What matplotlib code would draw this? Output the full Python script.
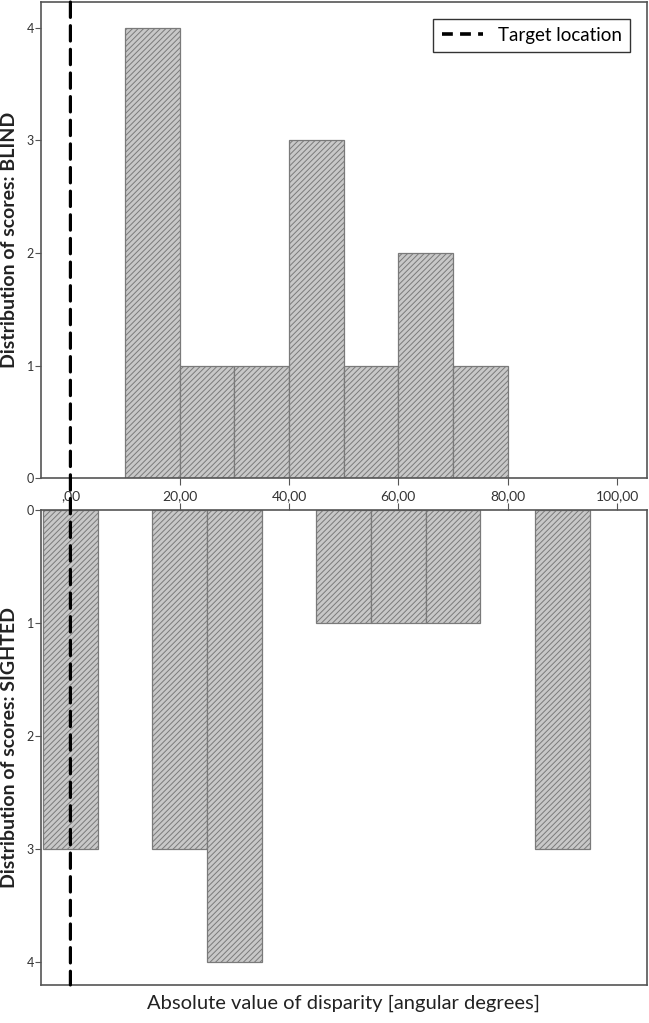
import matplotlib
matplotlib.use("Agg")
import matplotlib.pyplot as plt
from matplotlib.patches import ConnectionPatch
from matplotlib.lines import Line2D

# Data
blind_bin_left = [10, 20, 30, 40, 50, 60, 70]
blind_counts = [4, 1, 1, 3, 1, 2, 1]
sighted_bin_left = [-5, 15, 25, 45, 55, 65, 85]
sighted_counts = [3, 3, 4, 1, 1, 1, 3]
bin_width = 10
target_location = 0
x_ticks = [0, 20, 40, 60, 80, 100]
x_tick_labels = [",00", "20,00", "40,00", "60,00", "80,00", "100,00"]
y_ticks = [0, 1, 2, 3, 4]

plt.rcParams['font.family'] = ['Lato', 'DejaVu Sans']
plt.rcParams['hatch.linewidth'] = 0.7
plt.rcParams['hatch.color'] = '#7a7a7a'

fig = plt.figure(figsize=(6.49, 10.23), dpi=100)
ax1 = fig.add_axes([0.063, 0.5327, 0.934, 0.4653])
ax2 = fig.add_axes([0.063, 0.0372, 0.934, 0.4643])

spine_col = '#555555'
for ax in (ax1, ax2):
    for s in ax.spines.values():
        s.set_color(spine_col)
        s.set_linewidth(1.2)
    ax.set_xlim(-5.4, 105.5)
    ax.set_yticks(y_ticks)
    ax.tick_params(axis='y', direction='out', length=4, color=spine_col,
                   labelsize=9, labelcolor='#333333', pad=1)

bar_kw = dict(width=bin_width, align='edge', facecolor='#c8c8c8',
              edgecolor='#7a7a7a', hatch='//////', linewidth=0.9)
ax1.bar(blind_bin_left, blind_counts, **bar_kw)
ax2.bar(sighted_bin_left, sighted_counts, **bar_kw)

ax1.set_ylim(0, 4.23)
ax2.set_ylim(4.2, 0)

ax1.set_xticks(x_ticks)
ax1.set_xticklabels(x_tick_labels)
ax1.tick_params(axis='x', direction='out', length=5, color=spine_col,
                labelsize=10, labelcolor='#333333', pad=4)
ax2.set_xticks(x_ticks)
ax2.xaxis.set_ticks_position('top')
ax2.tick_params(axis='x', direction='out', length=5, color=spine_col,
                labeltop=False, labelbottom=False)

ax1.set_ylabel("Distribution of scores: BLIND", fontsize=14, fontweight='bold', color='#222222')
ax2.set_ylabel("Distribution of scores: SIGHTED", fontsize=14, fontweight='bold', color='#222222')
ax2.set_xlabel("Absolute value of disparity [angular degrees]", fontsize=14.5,
               labelpad=7, color='#222222')
ax1.yaxis.set_label_coords(-0.037, 0.5)
ax2.yaxis.set_label_coords(-0.037, 0.5)

# Target location dashed line across both panels
con = ConnectionPatch(xyA=(target_location, ax1.get_ylim()[1]), coordsA=ax1.transData,
                      xyB=(target_location, ax2.get_ylim()[0]), coordsB=ax2.transData,
                      color='black', linewidth=2.3, linestyle=(0, (4.8, 2.6)), zorder=10)
fig.add_artist(con)

handle = Line2D([], [], color='black', linewidth=2.6, linestyle=(0, (3, 2)))
leg = ax1.legend([handle], ["Target location"], loc='upper right',
                 bbox_to_anchor=(0.988, 0.985), fontsize=13.5, frameon=True,
                 fancybox=False, handlelength=2.2, borderpad=0.45)
leg.get_frame().set_edgecolor('black')
leg.get_frame().set_linewidth(1.0)

fig.savefig("out.png", dpi=100)
